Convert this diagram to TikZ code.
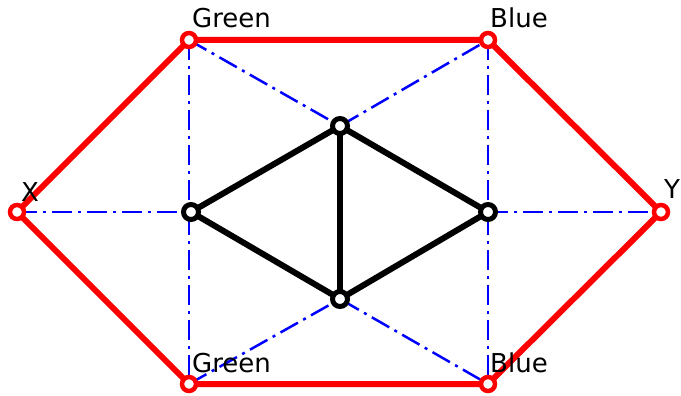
\documentclass[tikz,border=0pt]{standalone}
\usepackage{fontspec}
\setmainfont{DejaVu Sans}
\begin{document}
\begin{tikzpicture}[x=1pt,y=-1pt,
  redline/.style={draw=red,line width=6pt},
  blackline/.style={draw=black,line width=6pt},
  blueline/.style={draw=blue,line width=2.5pt,dash pattern=on 20pt off 6pt on 3pt off 6pt},
  redv/.style={circle,draw=red,line width=4.5pt,fill=white,minimum size=14pt,inner sep=0pt},
  blackv/.style={circle,draw=black,line width=5pt,fill=white,minimum size=15pt,inner sep=0pt},
  lab/.style={anchor=base west,inner sep=0pt,font=\fontsize{26}{31}\selectfont}]
\useasboundingbox (0,0) rectangle (681,396);
\coordinate (X) at (17,212);
\coordinate (Y) at (661,212);
\coordinate (GT) at (189,40);
\coordinate (BT) at (488,40);
\coordinate (GB) at (189,384);
\coordinate (BB) at (488,384);
\coordinate (L) at (191,212);
\coordinate (T) at (340,126);
\coordinate (B) at (340,299);
\coordinate (R) at (488,212);
% blue dash-dot
\draw[blueline] (X) -- (L);
\draw[blueline] (R) -- (Y);
\draw[blueline] (GT) -- (GB);
\draw[blueline] (BT) -- (BB);
\draw[blueline] (GT) -- (T) -- (BT);
\draw[blueline] (GB) -- (B) -- (BB);
% red hexagon
\draw[redline] (X) -- (GT) -- (BT) -- (Y) -- (BB) -- (GB) -- cycle;
% black
\draw[blackline] (L) -- (T) -- (R) -- (B) -- (L);
\draw[blackline] (T) -- (B);
% vertices
\foreach \v in {X,Y,GT,BT,GB,BB} \node[redv] (n\v) at (\v) {};
\foreach \v in {L,T,B,R} \node[blackv] (n\v) at (\v) {};
% labels
\node[lab] (lGT) at ([shift={(3,-12)}]GT) {Green};
\node[lab] (lBT) at ([shift={(2,-12)}]BT) {Blue};
\node[lab] (lGB) at ([shift={(3,-12)}]GB) {Green};
\node[lab] (lBB) at ([shift={(2,-12)}]BB) {Blue};
\node[lab] (lX) at ([shift={(4,-11)}]X) {X};
\node[lab] (lY) at ([shift={(3,-14)}]Y) {Y};
\end{tikzpicture}
\end{document}
